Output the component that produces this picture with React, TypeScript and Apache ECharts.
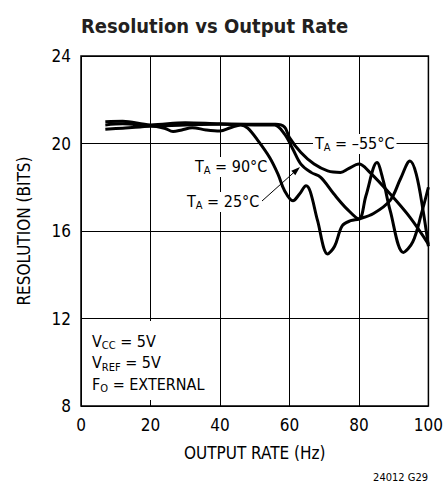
import React, { useEffect, useRef } from "react";
import * as echarts from "echarts";

// ---- data ----
const xTicks = [0, 20, 40, 60, 80, 100];
const yTicks = [8, 12, 16, 20, 24];

const curve90C = [
  [7, 20.65], [12, 20.7], [17, 20.75], [20, 20.8], [24, 20.7], [26.5, 20.55], [29, 20.62],
  [32, 20.72], [36, 20.62], [40, 20.57], [43, 20.72], [46, 20.85], [48, 20.7], [51, 20.12],
  [54.3, 19.36], [56.7, 18.6], [58.6, 17.84], [61, 17.38], [62.9, 17.69], [64.8, 18.07],
  [66, 17.8], [68.1, 16.47], [71, 14.95], [73, 15.3], [75.2, 16.24], [77.6, 16.47],
  [80, 16.55], [84.2, 16.8], [89, 17.4], [92, 18.4], [94.7, 19.2], [96.5, 18.6],
  [98.5, 16.9], [100, 15.3],
];
const curve25C = [
  [7, 20.85], [12, 20.9], [20, 20.8], [30, 20.85], [40, 20.88], [50, 20.85], [55.7, 20.85],
  [58.6, 20.43], [61, 19.74], [63.3, 19.06], [66.2, 18.68], [69, 18.45], [72.8, 17.69],
  [76.6, 17.0], [80, 16.55], [82, 17.6], [85.2, 19.13], [87, 18.3], [89, 16.93],
  [92.8, 15.02], [95.5, 15.5], [98, 16.8], [100, 18.0],
];
const curveM55C = [
  [7, 21.0], [12, 21.02], [20, 20.85], [30, 20.95], [40, 20.9], [50, 20.88], [56, 20.88],
  [58.6, 20.75], [60, 20.27], [63.3, 19.59], [67.1, 19.06], [71, 18.75], [74.7, 18.68],
  [77, 18.85], [80, 19.06], [83, 18.7], [89, 17.69], [94.7, 16.62], [100, 15.4],
];

const FONT = '"DejaVu Sans Condensed", "Liberation Sans Narrow", sans-serif';

const rich = {
  t: { fontSize: 16, fontFamily: FONT, fill: "#000", lineHeight: 18, verticalAlign: "top" },
  s: { fontSize: 11, fontFamily: FONT, fill: "#000", lineHeight: 12, verticalAlign: "bottom", padding: [9, 0, 0, 0] },
};

function label(text: string, x: number, y: number, bg = true) {
  return {
    type: "text",
    x,
    y,
    z: 1,
    style: {
      text,
      rich,
      fontFamily: FONT,
      fontSize: 16,
      fill: "#000",
      backgroundColor: bg ? "#fff" : undefined,
      padding: [1, 2, 1, 2],
      verticalAlign: "top",
      align: "left",
    },
  };
}

export default function App() {
  const ref = useRef<HTMLDivElement>(null);
  useEffect(() => {
    if (!ref.current) return;
    const chart = echarts.init(ref.current, undefined, { renderer: "svg" });
    const lineSeries = (name: string, data: number[][]) => ({
      name,
      type: "line",
      data,
      smooth: 0.35,
      showSymbol: false,
      symbol: "none",
      lineStyle: { color: "#000", width: 3 },
      z: 3,
    });
    chart.setOption({
      animation: false,
      backgroundColor: "#fff",
      title: {
        text: "Resolution vs Output Rate",
        left: 76,
        top: 11,
        textStyle: { fontFamily: FONT, fontSize: 20, fontWeight: "bold", color: "#231f20" },
      },
      grid: {
        left: 81,
        right: 13,
        top: 56,
        bottom: 84,
        show: true,
        borderColor: "#000",
        borderWidth: 1.5,
      },
      xAxis: {
        type: "value",
        min: xTicks[0],
        max: xTicks[xTicks.length - 1],
        interval: xTicks[1] - xTicks[0],
        axisLine: { show: false },
        axisTick: { show: false },
        splitLine: { show: true, lineStyle: { color: "#000", width: 1 } },
        axisLabel: { fontFamily: FONT, fontSize: 17, color: "#000", margin: 10 },
        name: "OUTPUT RATE (Hz)",
        nameLocation: "middle",
        nameGap: 38,
        nameTextStyle: { fontFamily: FONT, fontSize: 17, color: "#000" },
      },
      yAxis: {
        type: "value",
        min: yTicks[0],
        max: yTicks[yTicks.length - 1],
        interval: yTicks[1] - yTicks[0],
        axisLine: { show: false },
        axisTick: { show: false },
        splitLine: { show: true, lineStyle: { color: "#000", width: 1 } },
        axisLabel: { fontFamily: FONT, fontSize: 17, color: "#000", margin: 10 },
        name: "RESOLUTION (BITS)",
        nameLocation: "middle",
        nameGap: 49,
        nameTextStyle: { fontFamily: FONT, fontSize: 17, color: "#000" },
      },
      series: [
        lineSeries("TA = 90°C", curve90C),
        lineSeries("TA = 25°C", curve25C),
        lineSeries("TA = -55°C", curveM55C),
      ],
      graphic: [
        { type: "rect", z: 1, shape: { x: 84, y: 321, width: 131, height: 79 }, style: { fill: "#fff" } },
        label("{t|V}{s|CC}{t| = 5V}", 90, 332, false),
        label("{t|V}{s|REF}{t| = 5V}", 90, 353.5, false),
        label("{t|F}{s|O}{t| = EXTERNAL}", 90, 375, false),
        label("{t|T}{s|A}{t| = 90°C}", 193, 157),
        label("{t|T}{s|A}{t| = 25°C}", 185, 192),
        label("{t|T}{s|A}{t| = –55°C}", 313, 134),
        { type: "line", z: 100, shape: { x1: 262, y1: 201, x2: 296, y2: 170.5 }, style: { stroke: "#000", lineWidth: 1 } },
        { type: "polygon", z: 100, shape: { points: [[300, 167], [295.3, 175.2], [291.3, 170.8]] }, style: { fill: "#000" } },
        {
          type: "text",
          x: 428,
          y: 477,
          z: 100,
          style: { text: "24012 G29", fontFamily: FONT, fontSize: 11, fill: "#000", align: "right", verticalAlign: "middle" },
        },
      ],
    });
    return () => chart.dispose();
  }, []);
  return <div ref={ref} style={{ position: "absolute", left: 0, top: 0, width: 446, height: 490 }} />;
}
